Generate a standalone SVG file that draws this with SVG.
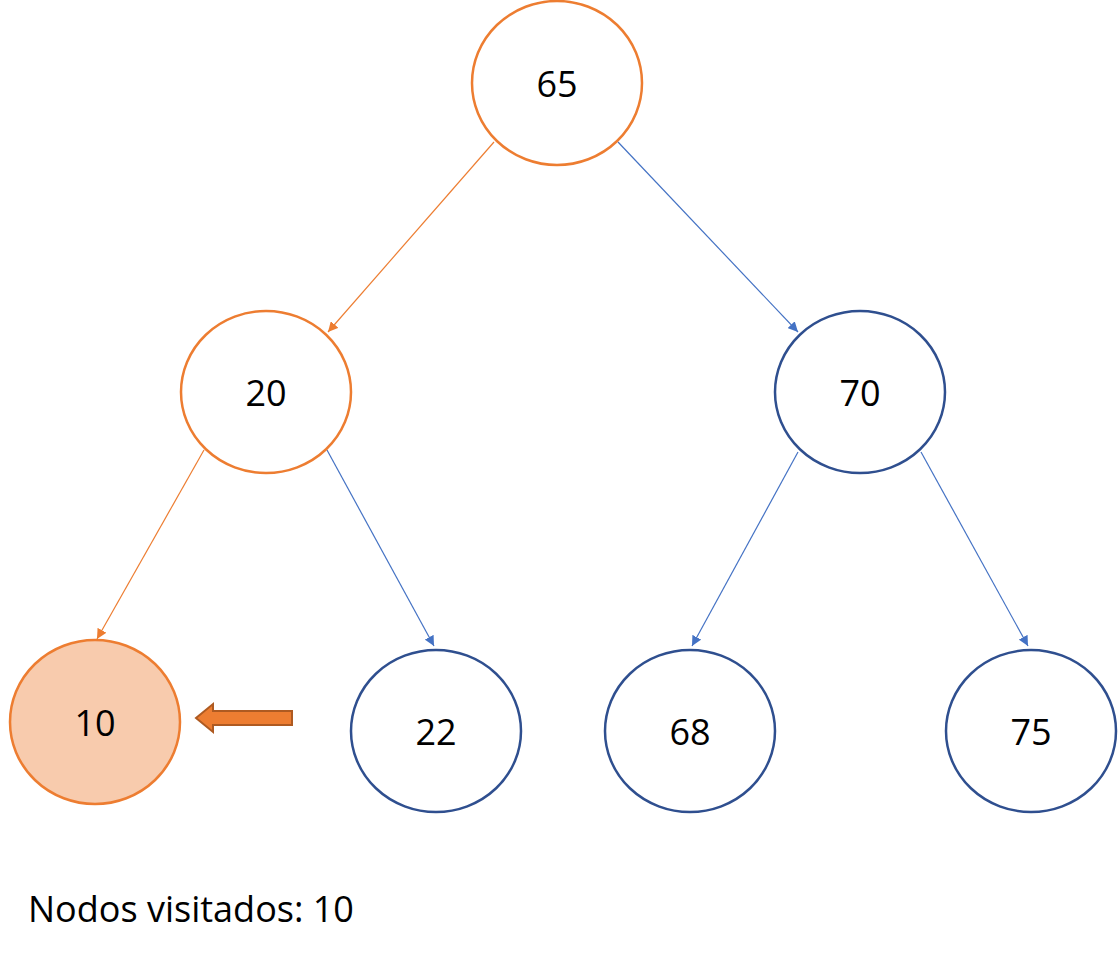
<svg xmlns="http://www.w3.org/2000/svg" width="1118" height="960" viewBox="0 0 1118 960">
<style>
.o{fill:#fff;stroke:#ed7d31;stroke-width:2.5}
.b{fill:#fff;stroke:#2f4f8f;stroke-width:2.5}
.f{fill:#f8cbad;stroke:#ed7d31;stroke-width:2.5}
text{font-family:"Open Sans","Liberation Sans",sans-serif;font-size:36px;fill:#000;text-anchor:middle;dominant-baseline:central}
.eo{stroke:#ed7d31;stroke-width:1.2;fill:none;marker-end:url(#ao)}
.eb{stroke:#4472c4;stroke-width:1.2;fill:none;marker-end:url(#ab)}
</style>
<defs>
<marker id="ao" viewBox="0 0 10 10" refX="10" refY="5" markerWidth="10" markerHeight="10" markerUnits="userSpaceOnUse" orient="auto"><path d="M0,0L10,5L0,10z" fill="#ed7d31"/></marker>
<marker id="ab" viewBox="0 0 10 10" refX="10" refY="5" markerWidth="10" markerHeight="10" markerUnits="userSpaceOnUse" orient="auto"><path d="M0,0L10,5L0,10z" fill="#4472c4"/></marker>
</defs>
<rect width="1118" height="960" fill="#fff"/>
<g id="connectors">
<line class="eo" x1="494" y1="142" x2="328" y2="332"/>
<line class="eb" x1="618" y1="142" x2="798" y2="332"/>
<line class="eo" x1="204" y1="450" x2="97" y2="639"/>
<line class="eb" x1="327" y1="450" x2="434" y2="646"/>
<line class="eb" x1="798" y1="452" x2="692" y2="646"/>
<line class="eb" x1="921" y1="452" x2="1028" y2="646"/>
</g>
<g id="n65"><ellipse class="o" cx="557" cy="83" rx="85" ry="82"/><text x="557" y="83">65</text></g>
<g id="n20"><ellipse class="o" cx="266" cy="392" rx="85" ry="81"/><text x="266" y="392">20</text></g>
<g id="n70"><ellipse class="b" cx="860" cy="392" rx="85" ry="81"/><text x="860" y="392">70</text></g>
<g id="n10"><ellipse class="f" cx="95" cy="722" rx="85" ry="82"/><text x="95" y="722">10</text></g>
<g id="n22"><ellipse class="b" cx="436" cy="731" rx="85" ry="81"/><text x="436" y="731">22</text></g>
<g id="n68"><ellipse class="b" cx="690" cy="731" rx="85" ry="81"/><text x="690" y="731">68</text></g>
<g id="n75"><ellipse class="b" cx="1031" cy="731" rx="85" ry="81"/><text x="1031" y="731">75</text></g>
<g id="pointer"><path d="M292,711L213,711L213,704L196,718L213,732L213,725L292,725z" fill="#ed7d31" stroke="#ae5a21" stroke-width="2"/></g>
<text x="28" y="908" style="text-anchor:start">Nodos visitados: 10</text>
</svg>
